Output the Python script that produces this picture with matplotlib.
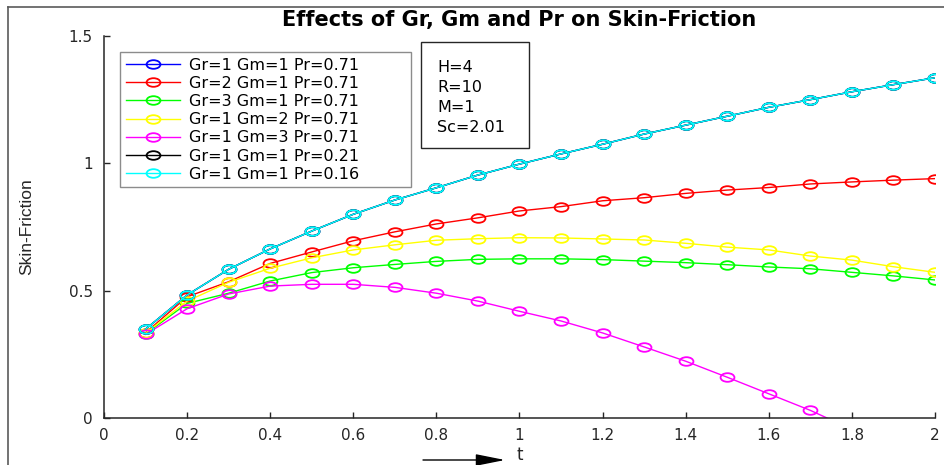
import numpy as np
import matplotlib
matplotlib.use("Agg")
import matplotlib.pyplot as plt
from matplotlib.path import Path
from matplotlib.lines import Line2D
from matplotlib.patches import Rectangle

# ---------------- data ----------------
t = [0.1, 0.2, 0.3, 0.4, 0.5, 0.6, 0.7, 0.8, 0.9, 1.0,
     1.1, 1.2, 1.3, 1.4, 1.5, 1.6, 1.7, 1.8, 1.9, 2.0]

base = [0.349, 0.483, 0.584, 0.664, 0.734, 0.800, 0.856, 0.904, 0.954, 0.997,
        1.037, 1.075, 1.115, 1.150, 1.185, 1.220, 1.250, 1.281, 1.309, 1.336]
gr2 = [0.335, 0.476, 0.535, 0.607, 0.652, 0.696, 0.731, 0.762, 0.786, 0.813,
       0.830, 0.853, 0.865, 0.882, 0.895, 0.905, 0.919, 0.927, 0.934, 0.940]
gr3 = [0.330, 0.450, 0.490, 0.538, 0.571, 0.590, 0.603, 0.615, 0.623, 0.625,
       0.625, 0.622, 0.616, 0.610, 0.602, 0.593, 0.586, 0.572, 0.558, 0.542]
gm2 = [0.333, 0.459, 0.533, 0.588, 0.629, 0.660, 0.680, 0.698, 0.704, 0.708,
       0.707, 0.703, 0.699, 0.686, 0.671, 0.660, 0.636, 0.620, 0.594, 0.572]
gm3 = [0.328, 0.429, 0.487, 0.518, 0.525, 0.525, 0.513, 0.490, 0.459, 0.419,
       0.381, 0.334, 0.279, 0.223, 0.160, 0.095, 0.030, -0.045, -0.125, -0.210]
pr021 = base
pr016 = base

series = [
    (base, "Gr=1 Gm=1 Pr=0.71", "#0000ff"),
    (gr2, "Gr=2 Gm=1 Pr=0.71", "#ff0000"),
    (gr3, "Gr=3 Gm=1 Pr=0.71", "#00ff00"),
    (gm2, "Gr=1 Gm=2 Pr=0.71", "#ffff00"),
    (gm3, "Gr=1 Gm=3 Pr=0.71", "#ff00ff"),
    (pr021, "Gr=1 Gm=1 Pr=0.21", "#000000"),
    (pr016, "Gr=1 Gm=1 Pr=0.16", "#00ffff"),
]

params = ["H=4", "R=10", "M=1", "Sc=2.01"]
xticks = [0, 0.2, 0.4, 0.6, 0.8, 1, 1.2, 1.4, 1.6, 1.8, 2]
xticklabels = ["0", "0.2", "0.4", "0.6", "0.8", "1", "1.2", "1.4", "1.6", "1.8", "2"]
yticks = [0, 0.5, 1, 1.5]
yticklabels = ["0", "0.5", "1", "1.5"]

# ---------------- figure ----------------
W, H = 945, 465
fig = plt.figure(figsize=(W / 100, H / 100), dpi=100)
fig.patch.set_facecolor("white")

L, R, B, T = 104, 935, 418, 36
ax = fig.add_axes([L / W, 1 - B / H, (R - L) / W, (B - T) / H])

# elliptical open marker (stretched circle)
circ = Path.unit_circle()
ell = Path(circ.vertices * np.array([1.0, 0.62]), circ.codes)

for y, lab, col in series:
    ax.plot(t, y, color=col, lw=1.0, marker=ell, markersize=10,
            markerfacecolor="none", markeredgecolor=col, markeredgewidth=1.3,
            label=lab)

ax.set_xlim(0, 2)
ax.set_ylim(0, 1.5)
ax.set_xticks(xticks)
ax.set_xticklabels(xticklabels)
ax.set_yticks(yticks)
ax.set_yticklabels(yticklabels)

for s in ["top", "right"]:
    ax.spines[s].set_visible(False)
for s in ["left", "bottom"]:
    ax.spines[s].set_color("#262626")
    ax.spines[s].set_linewidth(1.1)

ax.tick_params(direction="in", length=4.5, width=1.0, color="#262626",
               labelcolor="#262626", labelsize=11)
for lbl in ax.get_xticklabels() + ax.get_yticklabels():
    lbl.set_family("DejaVu Sans")
ax.tick_params(axis="x", pad=7)
ax.tick_params(axis="y", pad=8)

ax.set_title("Effects of Gr, Gm and Pr on Skin-Friction", fontsize=15,
             fontweight="bold", family="DejaVu Sans", color="black", pad=7)

ax.set_ylabel("Skin-Friction", fontsize=12.5, family="Liberation Sans",
              color="#262626")
ax.yaxis.set_label_coords((34 - L) / (R - L), 0.5)

ax.set_xlabel("t", fontsize=12, family="DejaVu Sans", color="#262626")
ax.xaxis.set_label_coords(0.5, -(446 - B) / (B - T))
ax.xaxis.label.set_va("top")

# legend
x0 = (120 - L) / (R - L)
x1 = (411 - L) / (R - L)
ytop = (B - 52) / (B - T)
leg = ax.legend(loc="upper left", bbox_to_anchor=(x0, ytop, x1 - x0, 0),
                mode="expand", borderaxespad=0,
                prop={"family": "DejaVu Sans", "size": 11.5},
                frameon=True, fancybox=False, shadow=False,
                handlelength=3.4, handletextpad=0.6, labelspacing=0.2,
                borderpad=0.35, framealpha=1, edgecolor="#8c8c8c")
leg.get_frame().set_linewidth(1.0)

# parameter box
bx0 = (421 - L) / (R - L)
bx1 = (529 - L) / (R - L)
by0 = (B - 148) / (B - T)
by1 = (B - 42) / (B - T)
ax.add_patch(Rectangle((bx0, by0), bx1 - bx0, by1 - by0, transform=ax.transAxes,
                       fill=True, facecolor="white", edgecolor="#262626",
                       lw=1.0, clip_on=False, zorder=5))
ypix = [67, 88, 108, 128]
for txt, yp in zip(params, ypix):
    ax.text((437 - L) / (R - L), (B - yp) / (B - T), txt, transform=ax.transAxes,
            fontsize=11.5, family="DejaVu Sans", color="black",
            ha="left", va="center", zorder=6)

# arrow under the axis
ax.annotate("", xy=(505 / W, 1 - 460 / H), xytext=(423 / W, 1 - 460 / H),
            xycoords="figure fraction", textcoords="figure fraction",
            arrowprops=dict(arrowstyle="-|>,head_length=0.9,head_width=0.18",
                            color="black", lw=1.0, mutation_scale=20,
                            shrinkA=0, shrinkB=0),
            annotation_clip=False)

# figure border (top and left edges visible in the crop)
fig.add_artist(Line2D([8 / W, 1], [1 - 7 / H, 1 - 7 / H], transform=fig.transFigure,
                      color="#5a5a5a", lw=1.2))
fig.add_artist(Line2D([8 / W, 8 / W], [0, 1 - 7 / H], transform=fig.transFigure,
                      color="#5a5a5a", lw=1.2))

fig.savefig("out.png", dpi=100, facecolor="white")
